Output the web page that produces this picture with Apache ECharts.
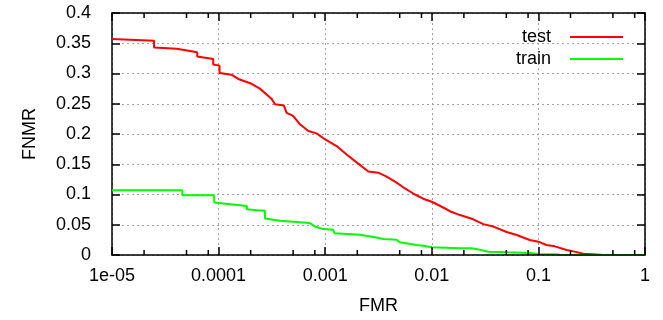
<!DOCTYPE html>
<html>
<head>
<meta charset="utf-8">
<script src="https://cdn.jsdelivr.net/npm/echarts@6/dist/echarts.min.js"></script>
<style>
  html, body { margin: 0; padding: 0; background: #fff; }
  #chart { width: 663px; height: 320px; }
</style>
</head>
<body>
<div id="chart"></div>
<script>
// test curve (red)
const testFmr = [1e-5, 2.48e-5, 2.48e-5, 4.05e-5, 6.3e-5, 6.3e-5, 8.9e-5, 8.9e-5, 1.02e-4, 1.02e-4,
    1.32e-4, 1.53e-4, 2.04e-4, 2.44e-4, 3.15e-4, 3.38e-4, 4.1e-4, 4.35e-4, 5.0e-4, 5.8e-4,
    6.95e-4, 8.3e-4, 1.0e-3, 1.28e-3, 1.59e-3, 2.04e-3, 2.54e-3, 3.15e-3, 3.77e-3, 4.68e-3,
    5.6e-3, 6.95e-3, 8.3e-3, 1.0e-2, 1.28e-2, 1.54e-2, 1.84e-2, 2.45e-2, 3.04e-2, 3.78e-2,
    5.04e-2, 6.25e-2, 8.3e-2, 0.1, 0.119, 0.143, 0.184, 0.213, 0.264, 0.378, 0.406];
const testFnmr = [0.357, 0.354, 0.343, 0.341, 0.335, 0.328, 0.324, 0.315, 0.313, 0.301,
    0.298, 0.291, 0.283, 0.275, 0.258, 0.249, 0.247, 0.235, 0.230, 0.216,
    0.205, 0.201, 0.191, 0.180, 0.166, 0.151, 0.138, 0.136, 0.1295, 0.1196,
    0.110, 0.100, 0.093, 0.088, 0.0785, 0.071, 0.066, 0.059, 0.051, 0.047,
    0.038, 0.033, 0.0247, 0.022, 0.0165, 0.0143, 0.0082, 0.006, 0.002, 0.0005, 0];

// train curve (green)
const trainFmr = [1e-5, 4.57e-5, 4.57e-5, 9.1e-5, 9.1e-5, 1.84e-4, 1.84e-4, 2.28e-4, 2.72e-4, 2.72e-4,
    3.77e-4, 5.0e-4, 7.2e-4, 8.0e-4, 9.6e-4, 1.19e-3, 1.22e-3, 2.12e-3, 3.04e-3, 3.51e-3,
    4.68e-3, 5.0e-3, 7.2e-3, 8.3e-3, 1.0e-2, 1.84e-2, 2.37e-2, 2.45e-2, 2.83e-2, 3.39e-2,
    5.04e-2, 8.3e-2, 0.1, 0.148, 0.16, 1];
const trainFnmr = [0.107, 0.107, 0.0988, 0.0988, 0.0867, 0.081, 0.0757, 0.074, 0.073, 0.0604,
    0.0565, 0.0548, 0.0527, 0.0472, 0.0428, 0.0416, 0.036, 0.0334, 0.029, 0.0263,
    0.0252, 0.021, 0.0165, 0.0153, 0.0127, 0.011, 0.011, 0.0099, 0.0088, 0.0055,
    0.0044, 0.0033, 0.0016, 0.0011, 0, 0];

const xTickLabels = ['1e-05', '0.0001', '0.001', '0.01', '0.1', '1'];
// gnuplot-like minor ticks at 2, 5, 8 of each decade
const xMinorTicks = [];
for (let e = -5; e < 0; e++) {
    [2, 5, 8].forEach(m => xMinorTicks.push(m * Math.pow(10, e)));
}

const FONT = "'Liberation Sans', Arial, sans-serif";
const zip = (xs, ys) => xs.map((x, i) => [x, ys[i]]);

const chart = echarts.init(document.getElementById('chart'));

const gridLine = () => ({ show: true, lineStyle: { color: '#a0a0a0', width: 1, type: [2, 3] } });
const frameLine = () => ({ show: true, onZero: false, lineStyle: { color: '#000', width: 1.5 } });
const majorTick = () => ({ show: true, inside: true, length: 8, lineStyle: { color: '#000', width: 1.5 } });

chart.setOption({
    animation: false,
    backgroundColor: '#fff',
    textStyle: { fontFamily: FONT },
    grid: { left: 112, right: 18, top: 13, bottom: 64 },
    legend: {
        data: ['test', 'train'],
        orient: 'vertical',
        align: 'right',
        right: 35,
        top: 21,
        itemGap: 0,
        itemWidth: 53,
        itemHeight: 2,
        icon: 'rect',
        textStyle: { fontSize: 18, color: '#000', lineHeight: 22, padding: [0, 14, 0, 0] },
    },
    xAxis: [
        {
            type: 'log', logBase: 10, min: 1e-5, max: 1, position: 'bottom', z: 5,
            name: 'FMR', nameLocation: 'middle', nameGap: 42,
            nameTextStyle: { fontSize: 18, color: '#000', fontFamily: FONT },
            axisLine: frameLine(), axisTick: majorTick(), splitLine: { show: false },
            axisLabel: {
                fontSize: 18, color: '#000', margin: 12, fontFamily: FONT,
                formatter: v => xTickLabels[Math.round(Math.log10(v)) + 5],
            },
        },
        {
            type: 'log', logBase: 10, min: 1e-5, max: 1, position: 'top',
            axisLine: frameLine(), axisTick: majorTick(), splitLine: gridLine(),
            axisLabel: { show: false },
        },
    ],
    yAxis: [
        {
            type: 'value', min: 0, max: 0.4, interval: 0.05, position: 'left',
            name: 'FNMR', nameLocation: 'middle', nameGap: 73, nameRotate: 90,
            nameTextStyle: { fontSize: 18, color: '#000', fontFamily: FONT },
            axisLine: frameLine(), axisTick: majorTick(), splitLine: gridLine(),
            axisLabel: { fontSize: 18, color: '#000', margin: 21, fontFamily: FONT },
        },
        {
            type: 'value', min: 0, max: 0.4, interval: 0.05, position: 'right',
            axisLine: frameLine(), axisTick: majorTick(), splitLine: { show: false },
            axisLabel: { show: false },
        },
    ],
    series: [
        {
            name: 'test', type: 'line', data: zip(testFmr, testFnmr),
            showSymbol: false, symbol: 'none', color: '#ff0000',
            lineStyle: { width: 2, color: '#ff0000' },
        },
        {
            name: 'train', type: 'line', data: zip(trainFmr, trainFnmr),
            showSymbol: false, symbol: 'none', color: '#00ff00',
            lineStyle: { width: 2, color: '#00ff00' },
        },
        {
            name: 'minor', type: 'custom', silent: true, z: 6,
            data: xMinorTicks.map(v => [v, 0]),
            renderItem: (params, api) => {
                const v = api.value(0);
                const b = api.coord([v, 0]);
                const t = api.coord([v, 0.4]);
                const st = { stroke: '#000', lineWidth: 1.5 };
                return {
                    type: 'group',
                    children: [
                        { type: 'line', shape: { x1: b[0], y1: b[1], x2: b[0], y2: b[1] - 5 }, style: st },
                        { type: 'line', shape: { x1: t[0], y1: t[1], x2: t[0], y2: t[1] + 5 }, style: st },
                    ],
                };
            },
        },
    ],
});
</script>
</body>
</html>
